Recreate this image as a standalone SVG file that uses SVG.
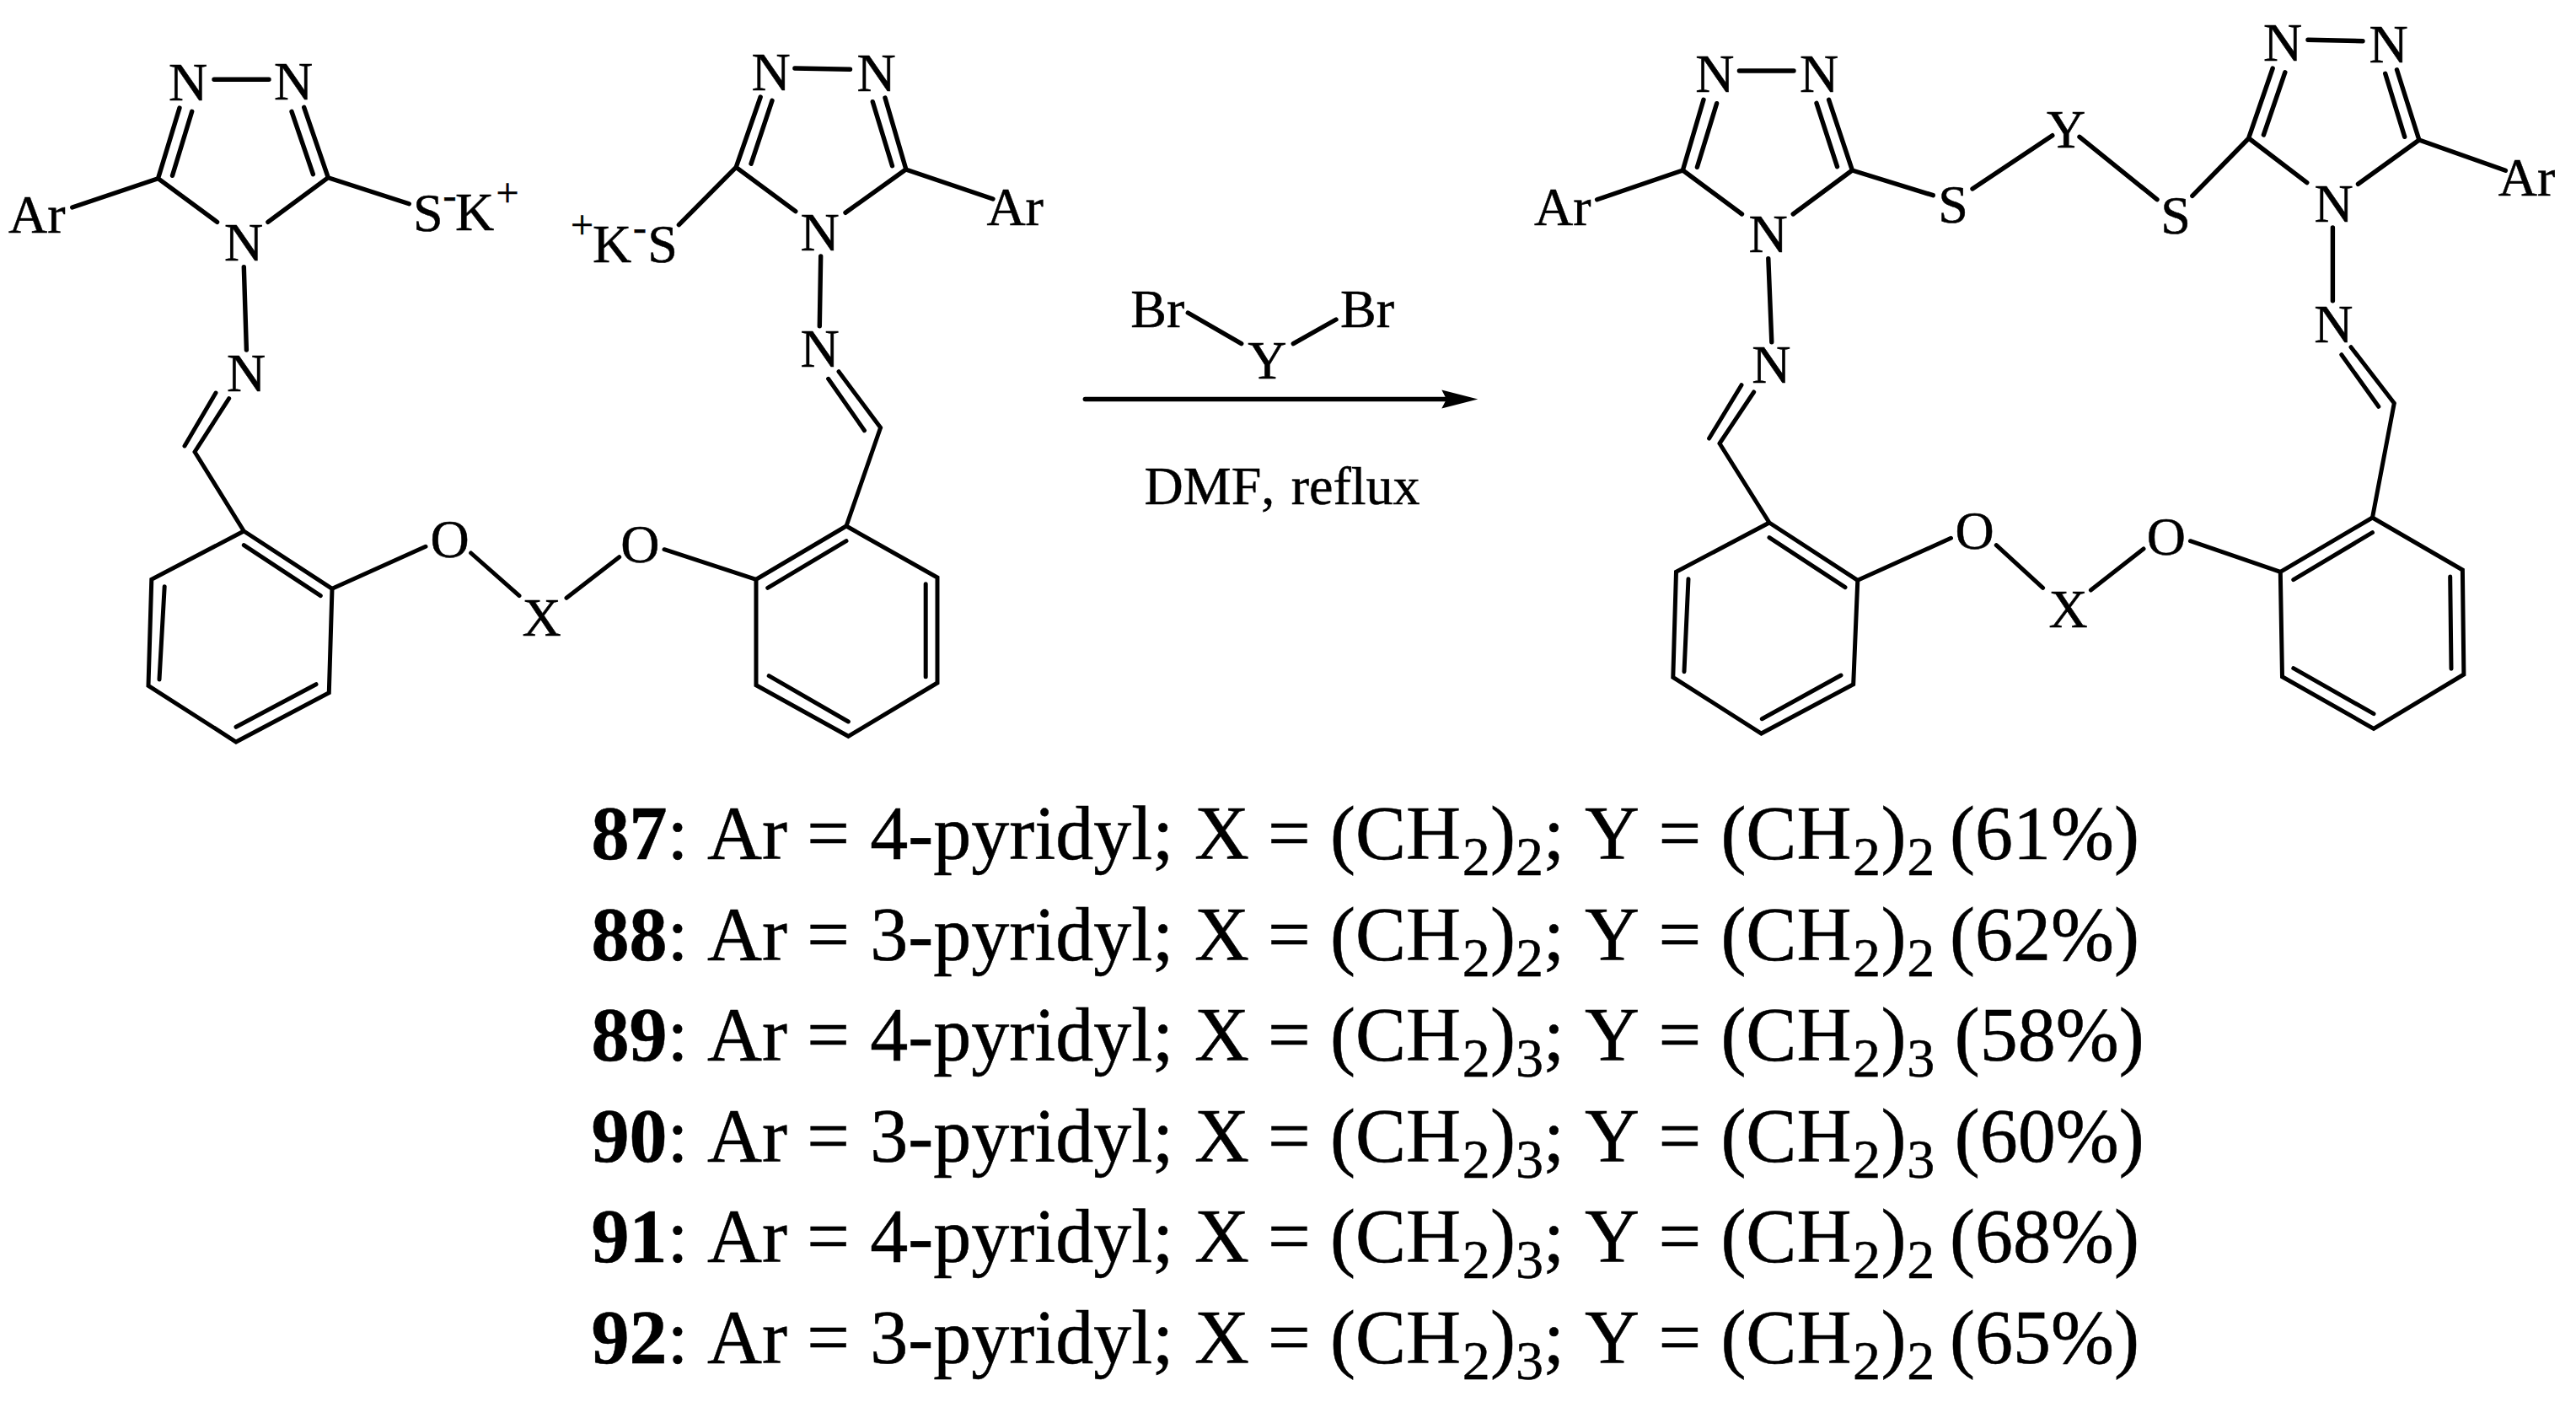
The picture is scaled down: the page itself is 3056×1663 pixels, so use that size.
<svg xmlns="http://www.w3.org/2000/svg" width="3056" height="1663" viewBox="0 0 3056 1663">
<style>
text{font-family:"Liberation Serif","Times New Roman",serif;fill:#000;font-kerning:none}
.a{font-size:64px;stroke:#000;stroke-width:.5}
.s{font-size:48px;stroke:#000;stroke-width:.5}
.t{font-size:90px;stroke:#000;stroke-width:.5}
.t tspan.n{font-weight:700}
.t tspan.u{font-size:66px}
.b{fill:none;stroke:#000;stroke-width:5;stroke-linecap:round;stroke-linejoin:miter}
.h{fill:none;stroke:#000;stroke-width:5.4;stroke-linecap:round}
</style>
<defs>
<marker id="head" markerUnits="userSpaceOnUse" markerWidth="50" markerHeight="26" refX="5.7" refY="12" orient="auto" overflow="visible"><path d="M0,1 L43,12 L0,23 L5.7,12Z" fill="#000"/></marker>
</defs>
<rect width="3056" height="1663" fill="#fff"/>
<g id="connectors">
<path class="h" d="M254,94.3H319M213,128L187.5,211.7M227.7,132.3L204.5,208.3M360.7,127.3L389.3,210.7M346,132.3L371.4,206.7M187.5,211.7L257.6,263.3M389.3,210.7L317.9,263.3M187.5,211.7L85.7,246M389.3,210.7L485.3,241.7M289.3,316.7L292.4,415"/>
<path class="b" d="M271.7,472.7L231,536M256,466L219,529M231,536L289.3,630M289.3,630L394,698.3L390.3,821.7L280,880L176,813.3L179.8,687.3Z"/>
<path class="b" d="M289.3,646.7L380.3,706.7M195.2,695.7L189,806M280,862.3L375,811.7M394,698.3L505,648.3M558.7,656L616,706.7M672,709.3L734.7,660.7M788,651.7L897,687.3"/>
<path class="b" d="M1004,624L1112,685L1112,810L1006.4,873.3L897,812.7L897,687.3Z"/>
<path class="b" d="M910.7,697.3L1004,641.7M1098.2,692.7V802.7M912.2,801.7L1006.4,856M1004,624L1044.6,507.3M995,440.7L1044.6,507.3M982.6,449.3L1025.5,510.7"/>
<path class="h" d="M942.9,81L1008.5,82.3M902.2,115L873.2,198.3M916,119.3L891,194.3M1050,116L1074.6,200M1035.3,120.7L1058.5,196.7M873.2,198.3L943.8,250.7M1074.6,201L1003,252.3M1074.6,201L1178,236M873.2,198.3L805.4,266.7M973.7,304L972.3,386.7"/>
<path class="h" d="M1409.3,371L1472.7,407.7M1585,379L1534.3,407.7"/>
<path class="h" d="M1287.3,473.5H1716" marker-end="url(#head)"/>
<path class="h" d="M2063.4,84H2128M2021,118.3L1996.4,201.7M2036.6,122.7L2013.4,198.3M2169.6,118.3L2197.3,201.7M2155,122.3L2179.5,197.7M1996.4,202L2066.5,254M2197.3,202L2127.2,254M1996.4,202L1894.6,236.7M2197.3,202L2293.3,231.7M2340,224L2434.8,160.7M2097.8,306.7L2101.8,405.7"/>
<path class="b" d="M2080.7,465L2040,526M2066,456.7L2027.6,520M2040,526L2099,620M2099,620L2203.8,688.3L2198.7,811.7L2089.5,870L1984.8,803.3L1988.5,678.3Z"/>
<path class="b" d="M2099,637.7L2189,696.7M2003,686.7L1998,796.7M2090.3,852.7L2184,801M2203.8,688.3L2314.5,638.3M2368.3,646.7L2423.6,697.3M2480.4,700L2543,651M2598.4,641.7L2705.3,678.3"/>
<path class="b" d="M2814.5,614L2921.4,676L2922.9,800L2816,864.3L2707.5,802.7L2705.3,678.3Z"/>
<path class="b" d="M2720.8,687.7L2814.5,631.7M2906.7,684L2908,793.3M2720.8,792.7L2816,846.7M2814.5,614L2840.3,478.3M2789,411.7L2840.3,478.3M2777.8,420.7L2821.8,482.3"/>
<path class="h" d="M2467,162.3L2559,236.7M2600.8,232.3L2667.8,164M2738,47.3L2803,48.7M2696.2,81L2667.8,163.3M2710.9,85.7L2685.4,160M2843.5,82.7L2869.9,166M2829.7,87.3L2852.7,162.3M2667.8,164L2736.8,216.7M2869.9,166L2797.5,218.3M2869.9,166L2972.4,202.3M2767.4,270V356.7"/>
</g>
<g id="reactant-left">
<text class="a" x="200" y="119">N</text>
<text class="a" x="325" y="118">N</text>
<text class="a" x="266" y="309">N</text>
<text class="a" x="269" y="464">N</text>
<text class="a" x="10" y="276">Ar</text>
<text class="a" x="490" y="274">S</text>
<text class="s" x="525.5" y="248">-</text>
<text class="a" x="540" y="273">K</text>
<text class="s" x="588.5" y="245">+</text>
<text class="a" x="510.5" y="661">O</text>
<text class="a" x="619.5" y="754">X</text>
<text class="a" x="736.3" y="667">O</text>
<text class="a" x="891.6" y="106.7">N</text>
<text class="a" x="1016.6" y="107.7">N</text>
<text class="a" x="949.6" y="296.7">N</text>
<text class="a" x="949.6" y="435">N</text>
<text class="a" x="1170.4" y="266.7">Ar</text>
<text class="s" x="677" y="283">+</text>
<text class="a" x="703" y="310.5">K</text>
<text class="s" x="751" y="286">-</text>
<text class="a" x="768.3" y="311">S</text>
</g>
<g id="reagent">
<text class="a" x="1341.3" y="388.3">Br</text>
<text class="a" x="1590" y="388.3">Br</text>
<text class="a" x="1480.3" y="449.3">Y</text>
<text class="a" x="1357.5" y="597.7">DMF, <tspan x="1531.7">reflux</tspan></text>
</g>
<g id="product">
<text class="a" x="2011.2" y="109.3">N</text>
<text class="a" x="2134.9" y="108.7">N</text>
<text class="a" x="2074.6" y="299.3">N</text>
<text class="a" x="2078.2" y="454.3">N</text>
<text class="a" x="1820" y="266.7">Ar</text>
<text class="a" x="2299.3" y="264.3">S</text>
<text class="a" x="2428.1" y="175">Y</text>
<text class="a" x="2563.3" y="276.7">S</text>
<text class="a" x="2319.6" y="651">O</text>
<text class="a" x="2430.4" y="744.3">X</text>
<text class="a" x="2546.8" y="657.7">O</text>
<text class="a" x="2685" y="71.7">N</text>
<text class="a" x="2810.5" y="74">N</text>
<text class="a" x="2745.6" y="263.3">N</text>
<text class="a" x="2745.2" y="406">N</text>
<text class="a" x="2963.8" y="232.3">Ar</text>
</g>
<g id="compound-list">
<text class="t" y="1019.3"><tspan class="n" x="701.5">87</tspan><tspan x="791.5">:</tspan> <tspan x="839">Ar</tspan> <tspan x="957.3">=</tspan> <tspan x="1032.2">4-pyridyl;</tspan> <tspan x="1417">X</tspan> <tspan x="1504">=</tspan> <tspan x="1578">(CH</tspan><tspan class="u" x="1734.7" dy="19">2</tspan><tspan x="1768" dy="-19">)</tspan><tspan class="u" x="1798" dy="19">2</tspan><tspan x="1831" dy="-19">;</tspan> <tspan x="1880">Y</tspan> <tspan x="1967.5">=</tspan> <tspan x="2041.4">(CH</tspan><tspan class="u" x="2198" dy="19">2</tspan><tspan x="2231.4" dy="-19">)</tspan><tspan class="u" x="2262.3" dy="19">2</tspan> <tspan x="2313" dy="-19">(61%)</tspan></text>
<text class="t" y="1138.8"><tspan class="n" x="701.5">88</tspan><tspan x="791.5">:</tspan> <tspan x="839">Ar</tspan> <tspan x="957.3">=</tspan> <tspan x="1032.2">3-pyridyl;</tspan> <tspan x="1417">X</tspan> <tspan x="1504">=</tspan> <tspan x="1578">(CH</tspan><tspan class="u" x="1734.7" dy="19">2</tspan><tspan x="1768" dy="-19">)</tspan><tspan class="u" x="1798" dy="19">2</tspan><tspan x="1831" dy="-19">;</tspan> <tspan x="1880">Y</tspan> <tspan x="1967.5">=</tspan> <tspan x="2041.4">(CH</tspan><tspan class="u" x="2198" dy="19">2</tspan><tspan x="2231.4" dy="-19">)</tspan><tspan class="u" x="2262.3" dy="19">2</tspan> <tspan x="2313" dy="-19">(62%)</tspan></text>
<text class="t" y="1258.3"><tspan class="n" x="701.5">89</tspan><tspan x="791.5">:</tspan> <tspan x="839">Ar</tspan> <tspan x="957.3">=</tspan> <tspan x="1032.2">4-pyridyl;</tspan> <tspan x="1417">X</tspan> <tspan x="1504">=</tspan> <tspan x="1578">(CH</tspan><tspan class="u" x="1734.7" dy="19">2</tspan><tspan x="1768" dy="-19">)</tspan><tspan class="u" x="1798" dy="19">3</tspan><tspan x="1831" dy="-19">;</tspan> <tspan x="1880">Y</tspan> <tspan x="1967.5">=</tspan> <tspan x="2041.4">(CH</tspan><tspan class="u" x="2198" dy="19">2</tspan><tspan x="2231.4" dy="-19">)</tspan><tspan class="u" x="2262.3" dy="19">3</tspan> <tspan x="2318.7" dy="-19">(58%)</tspan></text>
<text class="t" y="1377.5"><tspan class="n" x="701.5">90</tspan><tspan x="791.5">:</tspan> <tspan x="839">Ar</tspan> <tspan x="957.3">=</tspan> <tspan x="1032.2">3-pyridyl;</tspan> <tspan x="1417">X</tspan> <tspan x="1504">=</tspan> <tspan x="1578">(CH</tspan><tspan class="u" x="1734.7" dy="19">2</tspan><tspan x="1768" dy="-19">)</tspan><tspan class="u" x="1798" dy="19">3</tspan><tspan x="1831" dy="-19">;</tspan> <tspan x="1880">Y</tspan> <tspan x="1967.5">=</tspan> <tspan x="2041.4">(CH</tspan><tspan class="u" x="2198" dy="19">2</tspan><tspan x="2231.4" dy="-19">)</tspan><tspan class="u" x="2262.3" dy="19">3</tspan> <tspan x="2318.7" dy="-19">(60%)</tspan></text>
<text class="t" y="1496.8"><tspan class="n" x="701.5">91</tspan><tspan x="791.5">:</tspan> <tspan x="839">Ar</tspan> <tspan x="957.3">=</tspan> <tspan x="1032.2">4-pyridyl;</tspan> <tspan x="1417">X</tspan> <tspan x="1504">=</tspan> <tspan x="1578">(CH</tspan><tspan class="u" x="1734.7" dy="19">2</tspan><tspan x="1768" dy="-19">)</tspan><tspan class="u" x="1798" dy="19">3</tspan><tspan x="1831" dy="-19">;</tspan> <tspan x="1880">Y</tspan> <tspan x="1967.5">=</tspan> <tspan x="2041.4">(CH</tspan><tspan class="u" x="2198" dy="19">2</tspan><tspan x="2231.4" dy="-19">)</tspan><tspan class="u" x="2262.3" dy="19">2</tspan> <tspan x="2313" dy="-19">(68%)</tspan></text>
<text class="t" y="1616.5"><tspan class="n" x="701.5">92</tspan><tspan x="791.5">:</tspan> <tspan x="839">Ar</tspan> <tspan x="957.3">=</tspan> <tspan x="1032.2">3-pyridyl;</tspan> <tspan x="1417">X</tspan> <tspan x="1504">=</tspan> <tspan x="1578">(CH</tspan><tspan class="u" x="1734.7" dy="19">2</tspan><tspan x="1768" dy="-19">)</tspan><tspan class="u" x="1798" dy="19">3</tspan><tspan x="1831" dy="-19">;</tspan> <tspan x="1880">Y</tspan> <tspan x="1967.5">=</tspan> <tspan x="2041.4">(CH</tspan><tspan class="u" x="2198" dy="19">2</tspan><tspan x="2231.4" dy="-19">)</tspan><tspan class="u" x="2262.3" dy="19">2</tspan> <tspan x="2313" dy="-19">(65%)</tspan></text>
</g>
</svg>
